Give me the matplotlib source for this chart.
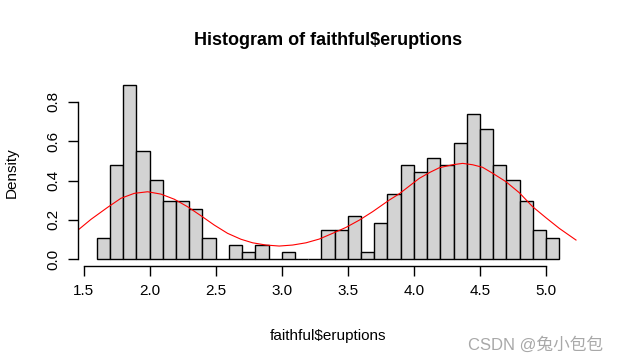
import matplotlib
matplotlib.use("Agg")
import matplotlib.pyplot as plt
import numpy as np

plt.rcParams['font.family'] = ['Liberation Sans', 'DejaVu Sans']

# histogram bins (width 0.1) and counts
bin_left = np.round(np.arange(1.6, 5.1, 0.1), 2)
counts = np.array([3, 13, 24, 15, 11, 8, 8, 7, 3, 0, 2, 1, 2, 0, 1, 0, 0,
                   4, 4, 6, 1, 5, 9, 13, 12, 14, 13, 16, 20, 18, 13, 11, 8, 4, 3])
bin_width = 0.1
density = counts / (counts.sum() * bin_width)

# red smooth curve
curve_x = [1.455, 1.556, 1.682, 1.783, 1.884, 1.985, 2.086, 2.187, 2.287, 2.389,
           2.489, 2.590, 2.691, 2.779, 2.881, 2.981, 3.082, 3.184, 3.284, 3.385,
           3.486, 3.587, 3.688, 3.814, 3.89, 4.041, 4.117, 4.193, 4.293, 4.369,
           4.445, 4.520, 4.596, 4.697, 4.798, 4.899, 5.00, 5.101, 5.227]
curve_y = [0.147, 0.203, 0.264, 0.310, 0.335, 0.343, 0.331, 0.305, 0.267, 0.221,
           0.174, 0.132, 0.102, 0.084, 0.0726, 0.0675, 0.0726, 0.084, 0.103, 0.132,
           0.162, 0.199, 0.242, 0.301, 0.333, 0.411, 0.440, 0.465, 0.480, 0.487,
           0.480, 0.467, 0.437, 0.394, 0.338, 0.267, 0.211, 0.157, 0.098]

xticks = [1.5, 2.0, 2.5, 3.0, 3.5, 4.0, 4.5, 5.0]
yticks = [0.0, 0.2, 0.4, 0.6, 0.8]

fig = plt.figure(figsize=(6.18, 3.64), dpi=100)
ax = fig.add_axes([0.1267, 0.2684, 0.8081, 0.5159])

ax.bar(bin_left, density, width=bin_width, align='edge',
       color='#d3d3d3', edgecolor='black', linewidth=1.0)
ax.plot(curve_x, curve_y, color='red', linewidth=0.8)

ymax = density.max()
xr = 5.1 - 1.6
ax.set_xlim(1.6 - 0.04 * xr, 5.1 + 0.04 * xr)
ax.set_ylim(-0.04 * ymax, ymax * 1.04)

# R style detached axes
for s in ['top', 'right']:
    ax.spines[s].set_visible(False)
ax.spines['left'].set_bounds(0.0, 0.8)
ax.spines['bottom'].set_bounds(1.5, 5.0)
ax.spines['left'].set_linewidth(1.0)
ax.spines['bottom'].set_linewidth(1.0)

ax.set_xticks(xticks)
ax.set_xticklabels([f"{t:.1f}" for t in xticks], fontsize=11)
ax.set_yticks(yticks)
ax.set_yticklabels([f"{t:.1f}" for t in yticks], fontsize=11,
                   rotation=90, va='center')
ax.tick_params(axis='both', length=7, width=1.0, pad=6)

ax.set_xlabel("faithful$eruptions", fontsize=11, labelpad=22)
ax.set_ylabel("Density", fontsize=11, labelpad=20)
ax.set_title("Histogram of faithful$eruptions", fontsize=13,
             fontweight='bold', pad=24)

fig.text(0.975, 0.052, "CSDN @兔小包包", ha='right', va='center',
         fontsize=12, color='#a8a8a8',
         family=['Liberation Sans', 'Noto Sans CJK SC'])

fig.savefig("out.png", dpi=100)
